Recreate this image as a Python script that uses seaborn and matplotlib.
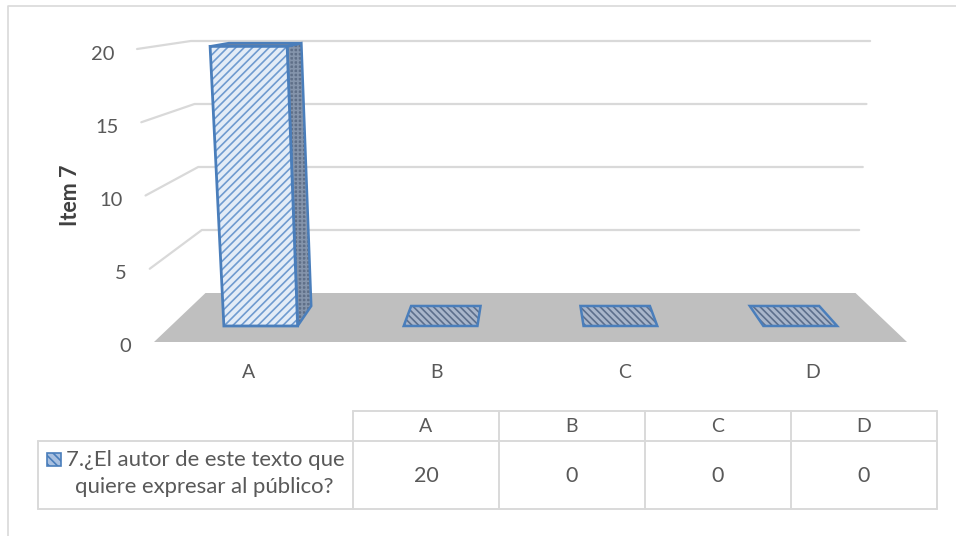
import matplotlib
matplotlib.use("Agg")
import matplotlib.pyplot as plt
import seaborn as sns
from matplotlib.patches import Polygon

# datos del grafico
categories = ["A", "B", "C", "D"]
values = [20, 0, 0, 0]
y_ticks = [0, 5, 10, 15, 20]
y_label = "Item 7"
legend_lines = ["7.¿El autor de este texto que", "quiere expresar al público?"]

W, H = 956, 536
GRID = "#d9d9d9"
TEXT = "#595959"
BLUE = "#4a7ebb"

sns.set_theme(style="white")
plt.rcParams["font.family"] = ["Lato", "DejaVu Sans"]
plt.rcParams["hatch.linewidth"] = 1.2

fig = plt.figure(figsize=(W / 100, H / 100), dpi=100)

# ejes base: el plano frontal del grafico 3D
ax = fig.add_axes([154 / W, 1 - 342 / H, 753 / W, 293 / H])
df_bar = {"cat": categories, "val": values}
sns.barplot(data=df_bar, x="cat", y="val", width=0.41, color=BLUE, ax=ax)
ax.set_xlim(-0.5, len(categories) - 0.5)
ax.set_ylim(0, max(y_ticks))
ax.set_xlabel("")
ax.set_ylabel("")
ax.set_yticks([])
sns.despine(ax=ax, left=True, bottom=True)
ax.tick_params(axis="x", length=0, pad=16, labelsize=14, labelcolor=TEXT)
ax.patch.set_alpha(0)

# capa en pixeles para la perspectiva y la tabla
ov = fig.add_axes([0, 0, 1, 1], zorder=-1)
ov.set_xlim(0, W)
ov.set_ylim(H, 0)
ov.axis("off")
top = fig.add_axes([0, 0, 1, 1], zorder=5)
top.set_xlim(0, W)
top.set_ylim(H, 0)
top.axis("off")
top.patch.set_alpha(0)


def project(xc, v, d):
    # xc en unidades de categoria, v valor, d profundidad (0 frente, 1 fondo)
    xn = (xc - 1.5) / 2
    half = 376.5 - 51.5 * d
    flare = 1 + 0.045 * v / max(y_ticks)
    px = 530.5 + xn * half * flare
    py = 342 - 49 * d - (293 - 41 * d) * v / max(y_ticks)
    return px, py


x0, x1 = -0.5, len(categories) - 0.5

# marco exterior (solo arriba y a la izquierda)
ov.plot([8, 8, 956], [536, 6, 6], color=GRID, lw=1.2)

# suelo
ov.add_patch(Polygon([project(x0, 0, 0), project(x1, 0, 0), project(x1, 0, 1), project(x0, 0, 1)],
                     facecolor="#bfbfbf", edgecolor="none"))
# rejilla
for t in y_ticks[1:]:
    pts = [project(x0, t, 0), project(x0, t, 1), project(x1, t, 1)]
    ov.plot([p[0] for p in pts], [p[1] for p in pts], color=GRID, lw=1.6)

for t in y_ticks:
    px, py = project(x0, t, 0)
    top.text(px - 23, py + 5, str(t), ha="right", va="center", fontsize=14.5, color=TEXT)

# barras: se toman de los rectangulos de seaborn y se proyectan
D_FRONT, D_BACK = 0.327, 0.735
for p in list(ax.patches):
    a, b = p.get_x(), p.get_x() + p.get_width()
    v = p.get_height()
    p.set_visible(False)
    if v > 0:
        side = [project(b, 0, D_FRONT), project(b, 0, D_BACK), project(b, v, D_BACK), project(b, v, D_FRONT)]
        top.add_patch(Polygon(side, facecolor="#5f6f88", edgecolor="#8494ab", hatch="++++", lw=0))
        top.add_patch(Polygon(side, fill=False, edgecolor=BLUE, lw=1.8))
        lid = [project(a, v, D_FRONT), project(b, v, D_FRONT), project(b, v, D_BACK), project(a, v, D_BACK)]
        top.add_patch(Polygon(lid, facecolor="#76859c", edgecolor=BLUE, lw=1.8))
        front = [project(a, 0, D_FRONT), project(b, 0, D_FRONT), project(b, v, D_FRONT), project(a, v, D_FRONT)]
        top.add_patch(Polygon(front, facecolor="#e3ecf7", edgecolor="#6f9bd0", hatch="////", lw=0))
        top.add_patch(Polygon(front, fill=False, edgecolor=BLUE, lw=2))
    else:
        base = [project(a, 0, D_FRONT), project(b, 0, D_FRONT), project(b, 0, D_BACK), project(a, 0, D_BACK)]
        top.add_patch(Polygon(base, facecolor="#a9b6cb", edgecolor="#5d6f8c", hatch="\\\\\\\\\\", lw=0))
        top.add_patch(Polygon(base, fill=False, edgecolor=BLUE, lw=1.8))

# titulo del eje
top.text(71, 195, y_label, rotation=90, ha="center", va="center", fontsize=15.5, fontweight="bold", color="#404040")

# tabla de datos
col_edges = [353, 499, 645, 791, 937]
y_head, y_mid, y_bot = 411, 441, 509
top.plot([353, 937], [y_head, y_head], color=GRID, lw=1.4)
top.plot([38, 937], [y_mid, y_mid], color=GRID, lw=1.4)
top.plot([38, 937], [y_bot, y_bot], color=GRID, lw=1.4)
top.plot([38, 38], [y_mid, y_bot], color=GRID, lw=1.4)
for c in col_edges:
    top.plot([c, c], [y_head, y_bot], color=GRID, lw=1.4)
for i, cat in enumerate(categories):
    cx = (col_edges[i] + col_edges[i + 1]) / 2
    top.text(cx, (y_head + y_mid) / 2 + 1, cat, ha="center", va="center", fontsize=14, color=TEXT)
    top.text(cx, (y_mid + y_bot) / 2 + 1, str(values[i]), ha="center", va="center", fontsize=15.5, color=TEXT)

top.add_patch(Polygon([(47, 453), (61, 453), (61, 466), (47, 466)], facecolor="#a9c0e0",
                      edgecolor=BLUE, hatch="\\\\\\\\", lw=1.2))
top.text(66, 460, legend_lines[0], ha="left", va="center", fontsize=15.9, color=TEXT)
top.text(75, 487, legend_lines[1], ha="left", va="center", fontsize=15.9, color=TEXT)

fig.savefig("out.png", dpi=100)
plt.close(fig)
